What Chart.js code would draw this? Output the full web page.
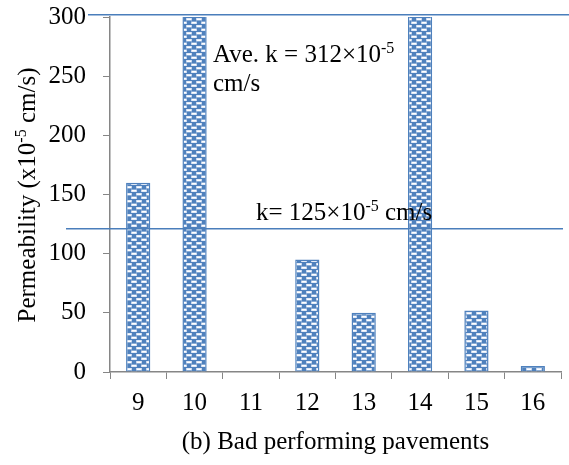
<!DOCTYPE html>
<html>
<head>
<meta charset="utf-8">
<script src="https://cdn.jsdelivr.net/npm/chart.js@4/dist/chart.umd.min.js"></script>
<style>
  html, body { margin: 0; padding: 0; background: #fff; }
  #wrap { width: 569px; height: 465px; position: relative; }
</style>
</head>
<body>
<div id="wrap"><canvas id="chart"></canvas></div>
<script>
// data
const pavements = ["9", "10", "11", "12", "13", "14", "15", "16"];
const permeability = [160, 1067, 0, 95, 50, 1067, 52, 5];   // 10 and 14 run off the top
const yTicks = [0, 50, 100, 150, 200, 250, 300];
const refLines = [302, 121];   // average line (top) and k=125 line

const FONT = '"Liberation Serif", "Times New Roman", serif';
const SIZE = 25;
const BLUE = '#4f81bd';
const AXIS = '#868686';

// dotted-brick fill like the Excel pattern
function makePattern() {
  const c = document.createElement('canvas');
  c.width = 10; c.height = 7;
  const g = c.getContext('2d');
  g.fillStyle = BLUE;
  g.fillRect(0, 0, 10, 7);
  g.fillStyle = 'rgba(200,215,238,1)';
  g.fillRect(1, 0.5, 6, 2.5);
  g.fillRect(6, 4, 4, 2.5);
  g.fillRect(0, 4, 2, 2.5);
  g.fillStyle = '#ffffff';
  g.fillRect(2, 1, 4, 1.5);
  g.fillRect(7, 4.5, 3, 1.5);
  g.fillRect(0, 4.5, 1, 1.5);
  return document.createElement('canvas').getContext('2d').createPattern(c, 'repeat');
}

// draw text with a "-5" style superscript
function richText(ctx, parts, x, y, size) {
  let cx = x;
  parts.forEach(p => {
    if (p.sup) {
      ctx.font = Math.round(size * 0.62) + 'px ' + FONT;
      ctx.fillText(p.t, cx, y - size * 0.38);
    } else {
      ctx.font = size + 'px ' + FONT;
      ctx.fillText(p.t, cx, y);
    }
    cx += ctx.measureText(p.t).width;
  });
  return cx - x;
}

function richWidth(ctx, parts, size) {
  let w = 0;
  parts.forEach(p => {
    ctx.font = (p.sup ? Math.round(size * 0.62) : size) + 'px ' + FONT;
    w += ctx.measureText(p.t).width;
  });
  return w;
}

const annotations = {
  id: 'annotations',
  afterDatasetsDraw(chart) {
    const ctx = chart.ctx;
    const y = chart.scales.y;
    const area = chart.chartArea;
    ctx.save();

    // reference lines
    ctx.strokeStyle = '#4a7ebb';
    ctx.lineWidth = 1.5;
    const yTop = y.getPixelForValue(refLines[0]);
    ctx.beginPath();
    ctx.moveTo(area.left - 22, yTop);
    ctx.lineTo(chart.width, yTop);
    ctx.stroke();
    const yLow = y.getPixelForValue(refLines[1]);
    ctx.beginPath();
    ctx.moveTo(area.left - 44, yLow);
    ctx.lineTo(area.right + 2, yLow);
    ctx.stroke();

    ctx.fillStyle = '#000';
    ctx.textBaseline = 'alphabetic';
    ctx.textAlign = 'left';
    richText(ctx, [{t: 'Ave. k = 312\u00d710'}, {t: '-5', sup: true}], 213, 62, SIZE);
    richText(ctx, [{t: 'cm/s'}], 213, 91, SIZE);
    richText(ctx, [{t: 'k= 125\u00d710'}, {t: '-5', sup: true}, {t: ' cm/s'}], 256, 220, SIZE);

    // y axis title with superscript
    const title = [{t: 'Permeability (x10'}, {t: '-5', sup: true}, {t: ' cm/s)'}];
    const w = richWidth(ctx, title, SIZE);
    ctx.translate(35, 195);
    ctx.rotate(-Math.PI / 2);
    richText(ctx, title, -w / 2, 0, SIZE);
    ctx.restore();
  }
};

const ctx = document.getElementById('chart');
new Chart(ctx, {
  type: 'bar',
  data: {
    labels: pavements,
    datasets: [{
      data: permeability,
      backgroundColor: makePattern(),
      borderColor: BLUE,
      borderWidth: 1.5,
      categoryPercentage: 1,
      barPercentage: 0.43
    }]
  },
  options: {
    responsive: true,
    maintainAspectRatio: false,
    animation: false,
    layout: { padding: { top: 17, right: 8, bottom: 0, left: 0 } },
    plugins: {
      legend: { display: false },
      tooltip: { enabled: false }
    },
    scales: {
      x: {
        afterFit(scale) { scale.height = 93; scale.paddingLeft = 0; scale.paddingRight = 0; },
        grid: { drawOnChartArea: false, drawTicks: true, tickLength: 7, color: AXIS, offset: true },
        border: { display: true, color: AXIS, width: 1.5 },
        ticks: { color: '#000', font: { family: FONT, size: SIZE }, padding: 9, maxRotation: 0 },
        title: {
          display: true,
          text: '(b) Bad performing pavements',
          color: '#000',
          font: { family: FONT, size: SIZE },
          padding: { top: 0, bottom: 8 }
        }
      },
      y: {
        min: 0,
        max: 300,
        afterFit(scale) { scale.width = 110; scale.paddingTop = 0; scale.paddingBottom = 0; },
        afterBuildTicks(scale) { scale.ticks = yTicks.map(v => ({ value: v })); },
        grid: { drawOnChartArea: false, drawTicks: true, tickLength: 7, color: AXIS },
        border: { display: true, color: AXIS, width: 1.5 },
        ticks: { color: '#000', font: { family: FONT, size: SIZE }, padding: 17 }
      }
    }
  },
  plugins: [annotations]
});
</script>
</body>
</html>
